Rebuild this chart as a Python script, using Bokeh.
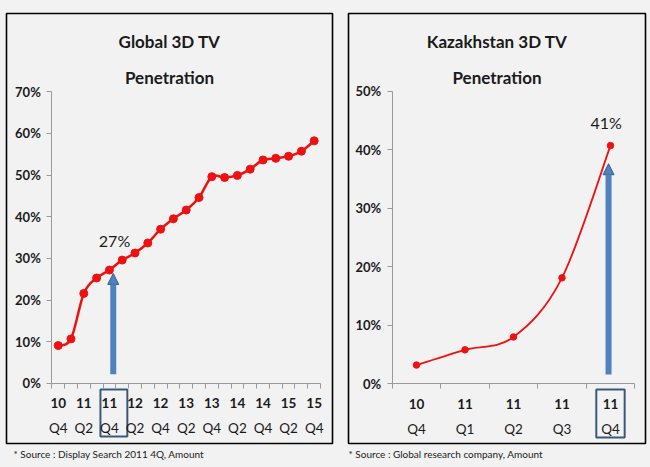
import numpy as np
from bokeh.plotting import figure
from bokeh.layouts import row
from bokeh.models import (Range1d, LinearAxis, FixedTicker, NumeralTickFormatter,
                          Arrow, NormalHead, Title)
from bokeh.core.properties import value
from bokeh.embed import file_html
from bokeh.resources import INLINE

# ---------------- data ----------------
global_quarters = ["10 Q4", "11 Q1", "11 Q2", "11 Q3", "11 Q4", "12 Q1", "12 Q2",
                   "12 Q3", "12 Q4", "13 Q1", "13 Q2", "13 Q3", "13 Q4", "14 Q1",
                   "14 Q2", "14 Q3", "14 Q4", "15 Q1", "15 Q2", "15 Q3", "15 Q4"]
global_values = [9.1, 10.7, 21.6, 25.3, 27.2, 29.6, 31.3, 33.7, 37.0, 39.5, 41.6,
                 44.6, 49.6, 49.4, 49.9, 51.4, 53.6, 54.0, 54.5, 55.7, 58.2]
global_yticks = [0, 10, 20, 30, 40, 50, 60, 70]

kz_quarters = ["10 Q4", "11 Q1", "11 Q2", "11 Q3", "11 Q4"]
kz_values = [3.2, 5.8, 8.0, 18.1, 40.7]
kz_yticks = [0, 10, 20, 30, 40, 50]

highlight_quarter = "11 Q4"

global_title = ["Global 3D TV", "Penetration"]
kz_title = ["Kazakhstan 3D TV", "Penetration"]
global_source = "* Source : Display Search 2011 4Q, Amount"
kz_source = "* Source : Global research company, Amount"

# ---------------- style ----------------
BG = "#f2f2f2"
RED = "#ee1111"
AXIS = "#9a9a9a"
TXT = "#1a1a1a"
FONT = "Lato"


def smooth_segments(xs, ys):
    xs = np.asarray(xs, float)
    ys = np.asarray(ys, float)
    n = len(xs)
    xp = np.concatenate([[xs[0]], xs, [xs[-1]]])
    yp = np.concatenate([[ys[0]], ys, [ys[-1]]])
    x0, y0 = xs[:-1], ys[:-1]
    x1, y1 = xs[1:], ys[1:]
    cx0 = x0 + (xp[2:n + 1] - xp[0:n - 1]) / 6.0
    cy0 = y0 + (yp[2:n + 1] - yp[0:n - 1]) / 6.0
    cx1 = x1 - (xp[3:n + 2] - xp[1:n]) / 6.0
    cy1 = y1 - (yp[3:n + 2] - yp[1:n]) / 6.0
    return dict(x0=x0, y0=y0, x1=x1, y1=y1, cx0=cx0, cy0=cy0, cx1=cx1, cy1=cy1)


def panel(quarters, vals, yticks, xr, yr, titles, title_y, source, src_offset,
          frame_w, mb_left, mb_right, label_dx, label_dy, arrow_dx, arrow_y0,
          arrow_gap, box_dx, box_w, box_y0, box_y1, every, line_w, msize):
    p = figure(frame_width=frame_w, frame_height=430, min_border_left=mb_left,
               min_border_right=mb_right, min_border_top=13, min_border_bottom=24,
               x_range=Range1d(*xr), y_range=Range1d(*yr),
               x_axis_type=None, y_axis_type=None,
               output_backend="svg", toolbar_location=None)
    p.background_fill_color = BG
    p.border_fill_color = BG
    p.outline_line_color = "black"
    p.outline_line_width = 1.6

    n = len(quarters)
    idx = list(range(n))
    ys = [v / 100.0 for v in vals]
    ymax = yticks[-1] / 100.0

    # y axis
    yax = LinearAxis(fixed_location=-0.5, bounds=(0, ymax),
                     ticker=FixedTicker(ticks=[t / 100.0 for t in yticks], minor_ticks=[]),
                     formatter=NumeralTickFormatter(format="0%"))
    yax.axis_line_color = AXIS
    yax.major_tick_line_color = AXIS
    yax.major_tick_out = 5
    yax.major_tick_in = 0
    yax.minor_tick_line_color = None
    yax.major_label_text_font = FONT
    yax.major_label_text_font_style = "bold"
    yax.major_label_text_font_size = "13px"
    yax.major_label_text_color = TXT
    yax.major_label_standoff = 6
    p.add_layout(yax, "left")

    lab_idx = idx[::every]
    years = {i: quarters[i].split()[0] for i in lab_idx}
    qs = {i: quarters[i].split()[1] for i in lab_idx}
    bounds = [i - 0.5 for i in range(n + 1)]

    xax = LinearAxis(fixed_location=0, bounds=(-0.5, n - 0.5),
                     ticker=FixedTicker(ticks=lab_idx, minor_ticks=bounds),
                     major_label_overrides=years)
    xax.axis_line_color = AXIS
    xax.major_tick_line_color = None
    xax.minor_tick_line_color = AXIS
    xax.minor_tick_out = 5
    xax.minor_tick_in = 0
    xax.major_label_text_font = FONT
    xax.major_label_text_font_style = "bold"
    xax.major_label_text_font_size = "13.5px"
    xax.major_label_text_color = TXT
    xax.major_label_standoff = 9
    p.add_layout(xax, "below")

    xax2 = LinearAxis(fixed_location=0,
                      ticker=FixedTicker(ticks=lab_idx, minor_ticks=[]),
                      major_label_overrides=qs)
    xax2.axis_line_color = None
    xax2.major_tick_line_color = None
    xax2.minor_tick_line_color = None
    xax2.major_label_text_font = FONT
    xax2.major_label_text_font_size = "13.5px"
    xax2.major_label_text_color = TXT
    xax2.major_label_standoff = 31
    p.add_layout(xax2, "below")

    # line + markers
    seg = smooth_segments(idx, ys)
    p.bezier(source=seg, x0="x0", y0="y0", x1="x1", y1="y1", cx0="cx0", cy0="cy0",
             cx1="cx1", cy1="cy1", line_color=RED, line_width=line_w)
    p.scatter(idx, ys, size=msize, fill_color=RED, line_color=RED)

    # highlight
    h = quarters.index(highlight_quarter)
    hv = ys[h]
    p.text([h + label_dx], [hv + label_dy], text=[f"{round(vals[h])}%"],
           text_font=value(FONT), text_font_size="16px", text_color=TXT,
           text_align="center", text_baseline="middle")
    p.add_layout(Arrow(x_start=h + arrow_dx, y_start=arrow_y0, x_end=h + arrow_dx,
                       y_end=hv - arrow_gap, line_color="#4f81bd", line_width=6,
                       end=NormalHead(size=11, fill_color="#4f81bd",
                                      line_color="#385d8a", line_width=1)))
    p.rect([h + box_dx], [(box_y0 + box_y1) / 2], width=box_w, height=abs(box_y1 - box_y0),
           fill_color=None, line_color="#3b5878", line_width=2)

    # titles
    cx = (xr[0] + xr[1]) / 2
    p.text([cx, cx], title_y, text=titles, text_font=value(FONT), text_font_style="bold",
           text_font_size="17px", text_color=TXT, text_align="center",
           text_baseline="middle")

    p.title = Title(text=source, align="left", offset=src_offset, standoff=5,
                    text_font=FONT, text_font_style="normal", text_font_size="10px",
                    text_color=TXT)
    p.title_location = "below"
    return p


p1 = panel(global_quarters, global_values, global_yticks,
           xr=(-4.04, 21.43), yr=(-0.1439, 0.8873),
           titles=global_title, title_y=[0.820, 0.734],
           source=global_source, src_offset=7,
           frame_w=326, mb_left=6, mb_right=8,
           label_dx=0.4, label_dy=0.071, arrow_dx=0.3, arrow_y0=0.022, arrow_gap=0.008,
           box_dx=0.35, box_w=2.1, box_y0=-0.0144, box_y1=-0.127, every=2,
           line_w=2.5, msize=8)

p2 = panel(kz_quarters, kz_values, kz_yticks,
           xr=(-1.402, 4.722), yr=(-0.102, 0.6327),
           titles=kz_title, title_y=[0.585, 0.523],
           source=kz_source, src_offset=0,
           frame_w=297, mb_left=8, mb_right=4,
           label_dx=-0.09, label_dy=0.040, arrow_dx=-0.04, arrow_y0=0.016, arrow_gap=0.031,
           box_dx=0.0, box_w=0.585, box_y0=-0.0097, box_y1=-0.0917, every=1,
           line_w=1.8, msize=6.5)

layout = row(p1, p2)
html = file_html(layout, INLINE)
html = html.replace("<head>", "<head><style>body{background:#f2f2f2;}</style>", 1)
open("out.html", "w").write(html)
